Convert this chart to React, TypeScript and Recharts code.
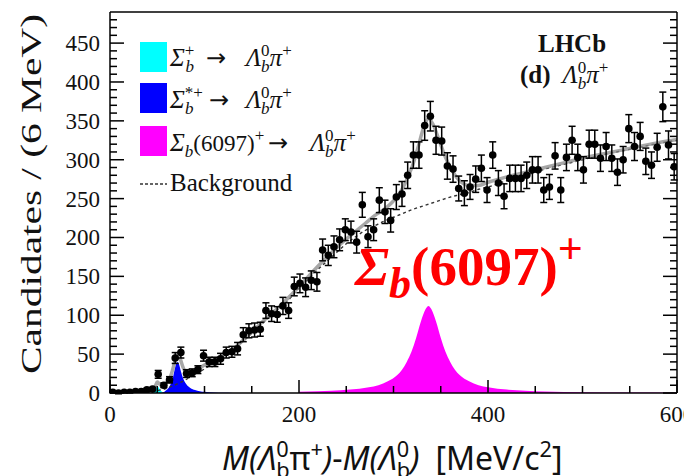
import {
  ComposedChart, Line, Area, Scatter, ErrorBar, XAxis, YAxis,
} from 'recharts';

// histogram: 6 MeV bins from 0 to 600
const BIN_WIDTH = 6;
const COUNTS = [
  1, 0, 1, 1, 2, 2, 4, 5, 24, 10,
  17, 45, 52, 25, 26, 30, 48, 40, 40, 44,
  52, 53, 57, 75, 80, 81, 82, 106, 102, 101,
  112, 106, 137, 141, 136, 145, 143, 184, 177, 188,
  197, 210, 207, 194, 242, 201, 210, 248, 233, 222,
  252, 256, 280, 306, 306, 344, 356, 325, 324, 292,
  288, 263, 257, 265, 275, 289, 261, 306, 270, 253,
  276, 276, 276, 280, 287, 287, 261, 265, 305, 261,
  303, 325, 303, 287, 320, 320, 302, 317, 302, 284,
  300, 340, 317, 330, 298, 293, 316, 368, 319, 291,
];
const ERRS = [
  1, 1, 1, 1, 1, 1, 2, 2, 5, 3,
  4, 7, 7, 5, 5, 5, 7, 6, 6, 7,
  7, 7, 8, 9, 9, 9, 9, 10, 10, 10,
  11, 10, 12, 12, 12, 12, 12, 14, 13, 14,
  14, 14, 14, 14, 16, 14, 14, 16, 15, 15,
  16, 16, 17, 17, 17, 19, 19, 18, 18, 17,
  17, 16, 16, 16, 17, 17, 16, 17, 16, 16,
  17, 17, 17, 17, 17, 17, 16, 16, 17, 16,
  17, 18, 17, 17, 18, 18, 17, 18, 17, 17,
  17, 18, 18, 18, 17, 17, 18, 19, 18, 17,
];

// total fit
const TOTAL_X = [0, 10, 20, 30, 40, 45, 48, 50, 52, 55, 58, 61, 64, 67, 70, 72, 74, 77, 80, 85, 90, 95, 100, 110, 120, 130, 140, 150, 160, 170, 180, 190, 200, 210, 220, 230, 240, 250, 260, 270, 280, 290, 300, 310, 320, 326, 332, 337, 342, 348, 355, 362, 370, 380, 390, 400, 420, 440, 460, 480, 500, 520, 540, 560, 580, 600];
const TOTAL_Y = [0, 0.3, 0.8, 1.5, 2.5, 4, 9, 14, 12, 9, 11, 15, 21, 33, 47, 50, 45, 34, 27, 25, 28, 32, 36, 42, 49, 56, 67, 78, 90, 101, 112, 124, 137, 150, 163, 175, 187, 198, 208, 218, 228, 236, 247, 264, 292, 316, 342, 353, 345, 326, 303, 286, 273, 267, 267, 271, 278, 284, 290, 296, 302, 307, 312, 317, 322, 326];

// background
const BKG_X = [0, 30, 45, 50, 60, 70, 80, 90, 100, 110, 120, 130, 140, 150, 160, 170, 180, 190, 200, 210, 220, 230, 240, 250, 260, 270, 280, 290, 300, 310, 320, 330, 340, 350, 360, 370, 380, 390, 400, 420, 440, 460, 480, 500, 520, 540, 560, 580, 600];
const BKG_Y = [0, 0.8, 2, 3, 6, 11, 17, 24, 31, 39, 47, 55, 66, 77, 88, 99, 110, 121, 135, 147, 159, 170, 181, 192, 201, 209, 215, 221, 226, 231, 236, 240, 244, 248, 252, 255, 258, 262, 265, 273, 280, 288, 294, 300, 306, 311, 316, 321, 325];

// Sigma_b(6097)+
const SB6097_X = [200, 220, 234, 254, 274, 284, 294, 304, 309, 314, 319, 324, 329, 334, 337, 340, 345, 350, 355, 360, 365, 370, 380, 390, 400, 420, 440, 460, 500, 550, 600];
const SB6097_Y = [1.5, 2.2, 3, 4.4, 7.5, 10, 15, 23, 30, 40, 53, 71, 92, 108, 112, 108, 92, 71, 53, 40, 30, 23, 15, 10, 7.5, 4.4, 3, 2, 1, 0.5, 0.3];

// Sigma_b*+
const SBSTAR_X = [55, 58, 61, 64, 67, 69, 71, 73, 75, 78, 81, 85, 90, 95, 100, 110, 120, 130];
const SBSTAR_Y = [0, 2, 5, 11, 22, 33, 40, 37, 28, 17, 11, 6.5, 3.8, 2.4, 1.5, 0.7, 0.3, 0];

// Sigma_b+
const SB_X = [45, 47, 49, 50, 51, 53, 55, 57];
const SB_Y = [0, 2, 6, 9, 8, 4, 1.5, 0];

const X_LABELS = [0, 200, 400, 600];
const Y_LABELS = [0, 50, 100, 150, 200, 250, 300, 350, 400, 450];

const SERIF = '"Liberation Serif", "Times New Roman", serif';
const SANS = '"Noto Sans", "DejaVu Sans", sans-serif';
const ARROW_FONT = '"DejaVu Sans", sans-serif';
const PL = 110, PR = 677, PT = 12, PB = 393;

const xTicks = Array.from({ length: 13 }, (_, i) => i * 50);
const yTicks = Array.from({ length: 49 }, (_, i) => i * 10);

const pairs = (xs: number[], ys: number[]) => xs.map((x, i) => ({ x, v: ys[i] }));
const points = COUNTS.map((y, i) => ({ x: BIN_WIDTH * i + BIN_WIDTH / 2, y, err: ERRS[i] }));

const AXIS = { stroke: '#000', strokeWidth: 1.5 };

const BottomTick = ({ x, payload }: any) => {
  const major = X_LABELS.includes(payload.value);
  return (
    <g>
      <line x1={x} x2={x} y1={PB} y2={PB - (major ? 13 : 7)} stroke="#000" strokeWidth={1.5} />
      {major && (
        <text x={x} y={PB + 29} textAnchor="middle" fontSize={23} fontFamily={SERIF} fill="#111">
          {payload.value}
        </text>
      )}
    </g>
  );
};

const TopTick = ({ x, payload }: any) => {
  const major = X_LABELS.includes(payload.value);
  return <line x1={x} x2={x} y1={PT} y2={PT + (major ? 13 : 7)} stroke="#000" strokeWidth={1.5} />;
};

const LeftTick = ({ y, payload }: any) => {
  const major = Y_LABELS.includes(payload.value);
  return (
    <g>
      <line x1={PL} x2={PL + (major ? 14 : 7)} y1={y} y2={y} stroke="#000" strokeWidth={1.5} />
      {major && (
        <text x={PL - 10} y={y + 8} textAnchor="end" fontSize={23} fontFamily={SERIF} fill="#111">
          {payload.value}
        </text>
      )}
    </g>
  );
};

const RightTick = ({ y, payload }: any) => {
  const major = Y_LABELS.includes(payload.value);
  return <line x1={PR - (major ? 14 : 7)} x2={PR} y1={y} y2={y} stroke="#000" strokeWidth={1.5} />;
};

// text with sub/superscripts; ax = absolute x of a part
type Part = {
  s: string; it?: boolean; b?: boolean; sup?: boolean; sub?: boolean;
  back?: number; dx?: number; ax?: number; size?: number; font?: string;
};

function MathText({ x, y, size, parts, family = SERIF, fill = '#111', scale = 0.68 }: {
  x: number; y: number; size: number; parts: Part[]; family?: string; fill?: string; scale?: number;
}) {
  let cur = 0;
  return (
    <text x={x} y={y} fontSize={size} fontFamily={family} fill={fill}>
      {parts.map((p, i) => {
        const target = p.sup ? -0.4 * size : p.sub ? 0.24 * size : 0;
        const dy = target - cur;
        cur = target;
        const dx = (p.dx || 0) - (p.back || 0);
        return (
          <tspan key={i} x={p.ax} dy={dy || undefined} dx={dx || undefined}
            fontSize={p.size ?? (p.sup || p.sub ? size * scale : size)} fontFamily={p.font}
            fontStyle={p.it ? 'italic' : 'normal'} fontWeight={p.b ? 'bold' : 'normal'}>
            {p.s}
          </tspan>
        );
      })}
    </text>
  );
}

const LEGEND_SWATCHES = [
  { color: '#00ffff', y: 42 },
  { color: '#0000ff', y: 83 },
  { color: '#ff00ff', y: 126 },
];

export default function App() {
  return (
    <div style={{ position: 'absolute', left: 0, top: 0, width: 684, height: 476, background: '#fff', overflow: 'hidden' }}>
      <ComposedChart width={684} height={476} margin={{ top: 0, right: 0, bottom: 0, left: 0 }}>
        <XAxis dataKey="x" type="number" domain={[0, 600]} ticks={xTicks} interval={0}
          tick={BottomTick} tickLine={false} axisLine={AXIS} height={476 - PB} allowDataOverflow />
        <XAxis xAxisId="top" orientation="top" type="number" domain={[0, 600]} ticks={xTicks} interval={0}
          tick={TopTick} tickLine={false} axisLine={AXIS} height={PT} allowDataOverflow />
        <YAxis type="number" domain={[0, 490]} ticks={yTicks} interval={0}
          tick={LeftTick} tickLine={false} axisLine={AXIS} width={PL} allowDataOverflow />
        <YAxis yAxisId="right" orientation="right" type="number" domain={[0, 490]} ticks={yTicks} interval={0}
          tick={RightTick} tickLine={false} axisLine={AXIS} width={684 - PR} allowDataOverflow />

        <Area data={pairs(SB6097_X, SB6097_Y)} dataKey="v" type="monotone" fill="#ff00ff" fillOpacity={1}
          stroke="none" isAnimationActive={false} />
        <Area data={pairs(SB_X, SB_Y)} dataKey="v" type="monotone" fill="#00ffff" fillOpacity={1}
          stroke="none" isAnimationActive={false} />
        <Area data={pairs(SBSTAR_X, SBSTAR_Y)} dataKey="v" type="monotone" fill="#0000ff" fillOpacity={1}
          stroke="none" isAnimationActive={false} />

        <Line data={pairs(BKG_X, BKG_Y)} dataKey="v" type="monotone" stroke="#333" strokeWidth={1.4}
          strokeDasharray="3 3" dot={false} isAnimationActive={false} />
        <Line data={pairs(TOTAL_X, TOTAL_Y)} dataKey="v" type="monotone" stroke="#8a8a8a" strokeOpacity={0.75}
          strokeWidth={3.5} dot={false} isAnimationActive={false} />

        <Scatter data={points} dataKey="y" fill="#000" isAnimationActive={false}
          shape={(p: any) => <circle cx={p.cx} cy={p.cy} r={3.8} fill="#000" />}>
          <ErrorBar dataKey="err" direction="y" width={3.5} stroke="#000" strokeWidth={1.5} />
        </Scatter>
      </ComposedChart>

      <svg width={684} height={476} style={{ position: 'absolute', left: 0, top: 0, pointerEvents: 'none' }}>
        {/* y title */}
        <text transform="translate(41,194) rotate(-90)" textAnchor="middle" fontSize={29} fontFamily={SERIF}
          fill="#111" textLength={360} lengthAdjust="spacingAndGlyphs">
          Candidates / (6 MeV)
        </text>

        {/* legend */}
        {LEGEND_SWATCHES.map(s => (
          <rect key={s.color} x={140} y={s.y} width={27} height={30} fill={s.color} />
        ))}
        <line x1={140} x2={167} y1={184} y2={184} stroke="#333" strokeWidth={1.5} strokeDasharray="3 2" />
        <MathText x={170} y={66} size={25} parts={[
          { s: 'Σ', it: true }, { s: '+', sup: true }, { s: 'b', it: true, sub: true, back: 9 },
          { s: '→', ax: 206, size: 24, font: ARROW_FONT }, { s: 'Λ', it: true, ax: 246 }, { s: '0', sup: true },
          { s: 'b', it: true, sub: true, back: 8.5 }, { s: 'π', it: true }, { s: '+', sup: true },
        ]} />
        <MathText x={170} y={108} size={25} parts={[
          { s: 'Σ', it: true }, { s: '*+', sup: true }, { s: 'b', it: true, sub: true, back: 18 },
          { s: '→', ax: 209, size: 24, font: ARROW_FONT }, { s: 'Λ', it: true, ax: 246 }, { s: '0', sup: true },
          { s: 'b', it: true, sub: true, back: 8.5 }, { s: 'π', it: true }, { s: '+', sup: true },
        ]} />
        <MathText x={170} y={151} size={25} parts={[
          { s: 'Σ', it: true }, { s: 'b', it: true, sub: true }, { s: '(6097)', size: 23 }, { s: '+', sup: true },
          { s: '→', ax: 268, size: 24, font: ARROW_FONT }, { s: 'Λ', it: true, ax: 310 }, { s: '0', sup: true },
          { s: 'b', it: true, sub: true, back: 8.5 }, { s: 'π', it: true }, { s: '+', sup: true },
        ]} />
        <text x={170} y={191} fontSize={25} fontFamily={SERIF} fill="#111">Background</text>

        {/* LHCb label */}
        <text x={572} y={52} textAnchor="middle" fontSize={25} fontWeight="bold" fontFamily={SERIF} fill="#111">LHCb</text>
        <MathText x={520} y={83} size={25} parts={[
          { s: '(d)', b: true }, { s: 'Λ', it: true, dx: 12 }, { s: '0', sup: true },
          { s: 'b', it: true, sub: true, back: 8.5 }, { s: 'π', it: true }, { s: '+', sup: true },
        ]} />

        {/* red annotation */}
        <MathText x={355} y={285} size={55} fill="#ff0000" scale={0.8} parts={[
          { s: 'Σ', it: true, b: true }, { s: 'b', it: true, b: true, sub: true }, { s: '(6097)', b: true },
          { s: '+', b: true, sup: true },
        ]} />

        {/* x title */}
        <MathText x={222} y={470} size={32} family={SANS} parts={[
          { s: 'M(Λ', it: true }, { s: '0', sup: true }, { s: 'b', sub: true, back: 12.5 },
          { s: 'π' }, { s: '+', sup: true }, { s: ')', it: true }, { s: '-' },
          { s: 'M(Λ', it: true }, { s: '0', sup: true }, { s: 'b', sub: true, back: 12.5 },
          { s: ')', it: true }, { s: '[MeV/c', dx: 16 }, { s: '2', sup: true }, { s: ']' },
        ]} />
      </svg>
    </div>
  );
}
